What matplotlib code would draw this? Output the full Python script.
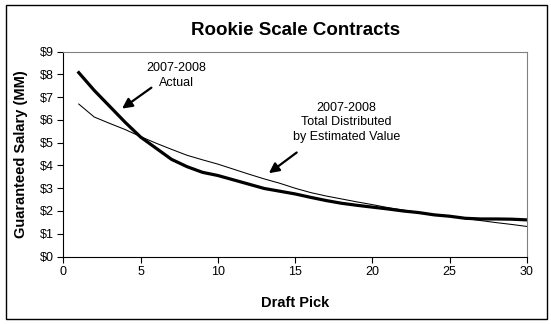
import matplotlib.pyplot as plt
from matplotlib.patches import Rectangle
from matplotlib.ticker import FuncFormatter

plt.rcParams["font.family"] = ["Liberation Sans", "DejaVu Sans"]

# Guaranteed salary ($MM) by draft pick
picks = list(range(1, 31))
actual = [8.08, 7.30, 6.60, 5.90, 5.25, 4.76, 4.27, 3.95, 3.70, 3.56,
          3.37, 3.18, 2.99, 2.87, 2.75, 2.60, 2.46, 2.34, 2.25, 2.17,
          2.09, 2.00, 1.93, 1.83, 1.77, 1.68, 1.65, 1.65, 1.64, 1.61]
estimated = [6.70, 6.13, 5.85, 5.58, 5.27, 4.98, 4.71, 4.45, 4.25, 4.06,
             3.84, 3.62, 3.41, 3.22, 3.00, 2.81, 2.66, 2.53, 2.40, 2.28,
             2.15, 2.04, 1.93, 1.84, 1.76, 1.67, 1.58, 1.49, 1.41, 1.32]

fig = plt.figure(figsize=(5.51, 3.24), dpi=100)
ax = fig.add_axes([0.1149, 0.2083, 0.8415, 0.6321])

ax.plot(picks, actual, color="black", linewidth=2.3, solid_joinstyle="round")
ax.plot(picks, estimated, color="black", linewidth=0.75)

ax.set_xlim(0, 30)
ax.set_ylim(0, 9)
ax.set_xticks(range(0, 31, 5))
ax.set_yticks(range(0, 10))
ax.yaxis.set_major_formatter(FuncFormatter(lambda v, p: f"${v:.0f}"))
ax.tick_params(direction="out", length=4, width=0.8, labelsize=9, pad=3)

for side in ("top", "right"):
    ax.spines[side].set_color("#808080")
for side in ("left", "bottom"):
    ax.spines[side].set_color("black")

ax.set_title("Rookie Scale Contracts", fontsize=13.5, fontweight="bold", pad=12)
ax.set_xlabel("Draft Pick", fontsize=10.5, fontweight="bold", labelpad=13)
ax.set_ylabel("Guaranteed Salary (MM)", fontsize=10.5, fontweight="bold", labelpad=8)

arrow = dict(arrowstyle="-|>,head_length=0.6,head_width=0.3", color="black", lw=1.6,
             shrinkA=0, shrinkB=0)
ax.annotate("", xy=(3.8, 6.5), xytext=(5.7, 7.42), arrowprops=arrow)
ax.text(7.3, 7.95, "2007-2008\nActual", ha="center", va="center",
        fontsize=9, linespacing=1.3)

ax.annotate("", xy=(13.3, 3.66), xytext=(15.1, 4.57), arrowprops=arrow)
ax.text(18.3, 5.9, "2007-2008\nTotal Distributed\nby Estimated Value", ha="center",
        va="center", fontsize=9, linespacing=1.3)

# chart area border
fig.patches.append(Rectangle((6 / 551, 5 / 324), 541 / 551, 314 / 324,
                             transform=fig.transFigure, fill=False,
                             edgecolor="black", linewidth=1))

fig.savefig("out.png", dpi=100)
